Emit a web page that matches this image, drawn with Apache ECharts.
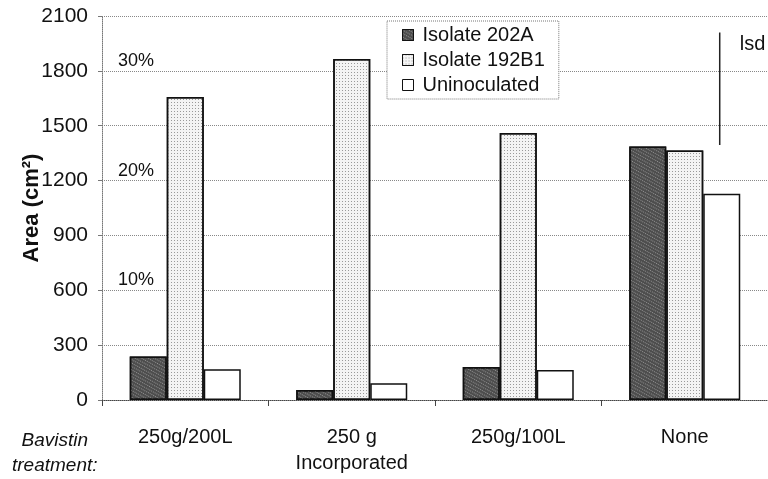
<!DOCTYPE html>
<html>
<head>
<meta charset="utf-8">
<script src="https://cdn.jsdelivr.net/npm/echarts@6/dist/echarts.min.js"></script>
<style>html,body{margin:0;padding:0;background:#fff}#c{width:768px;height:479px}</style>
</head>
<body>
<div id="c"></div>
<script>
var categories = ['250g/200L', '250 g\nIncorporated', '250g/100L', 'None'];
var isolate202A = [238, 55, 180, 1387];
var isolate192B1 = [1657, 1865, 1460, 1365];
var uninoculated = [168, 91, 164, 1128];
var yTicks = [0, 300, 600, 900, 1200, 1500, 1800, 2100];
var pctValues = [1800, 1200, 600];
var pctLabels = ['30%', '20%', '10%'];
var lsdX = 3.71;
var lsdTop = 2010;
var lsdBottom = 1395;

var FONT = '"Liberation Sans", Arial, sans-serif';
var chart = echarts.init(document.getElementById('c'), null, {renderer: 'canvas'});

var borderStyle = {borderColor: '#111', borderWidth: 1.5};
var option = {
  animation: false,
  backgroundColor: '#fff',
  textStyle: {fontFamily: FONT, color: '#111'},
  grid: {left: 102, top: 16, width: 672, bottom: 79, containLabel: false},
  legend: {
    orient: 'vertical', left: 387, top: 21,
    padding: [4, 14, 4, 15],
    itemGap: 5, itemWidth: 11, itemHeight: 11,
    borderColor: '#777', borderWidth: 1, borderType: 'dotted',
    backgroundColor: '#fff',
    icon: 'rect',
    textStyle: {fontFamily: FONT, fontSize: 20, lineHeight: 19, color: '#111', padding: [0, 0, 0, 4]},
    itemStyle: {borderColor: '#111', borderWidth: 1},
    data: ['Isolate 202A', 'Isolate 192B1', 'Uninoculated']
  },
  xAxis: [{
    type: 'category', data: categories, gridIndex: 0,
    axisLine: {lineStyle: {color: '#444', width: 1, type: 'dotted'}},
    axisTick: {show: true, length: 6, lineStyle: {color: '#444'}},
    axisLabel: {fontFamily: FONT, fontSize: 20, color: '#111', margin: 24, lineHeight: 26, align: 'center'},
    splitLine: {show: false}
  }, {
    type: 'value', min: 0, max: 4, show: false, gridIndex: 0
  }],
  yAxis: {
    type: 'value', min: 0, max: 2100, interval: 300,
    name: 'Area (cm²)', nameLocation: 'middle', nameGap: 59, nameRotate: 90, nameMoveOverlap: false,
    nameTextStyle: {fontFamily: FONT, fontSize: 22, fontWeight: 'bold', color: '#111'},
    axisLine: {show: true, lineStyle: {color: '#777', type: 'dotted'}},
    axisTick: {show: true, length: 4, lineStyle: {color: '#777'}},
    axisLabel: {fontFamily: FONT, fontSize: 21, color: '#111', margin: 14,
      formatter: function (v) { return yTicks.indexOf(v) >= 0 ? String(v) : ''; }},
    splitLine: {show: true, lineStyle: {color: '#888', type: 'dotted', width: 1}}
  },
  graphic: [{
    type: 'text', left: 12, top: 428,
    style: {text: 'Bavistin\ntreatment:', font: 'italic 19px ' + FONT, fill: '#111', textAlign: 'center', lineHeight: 25, x: 46}
  }],
  series: [{
    name: 'Isolate 202A', type: 'bar', data: isolate202A, barWidth: 37, barGap: '0%',
    itemStyle: Object.assign({color: '#4d4d4d',
      decal: {symbol: 'rect', symbolSize: 1, dashArrayX: [1, 1], dashArrayY: [1, 2], color: 'rgba(200,200,200,0.55)', rotation: 0.5}}, borderStyle),
    markLine: {
      silent: true, symbol: 'none',
      lineStyle: {color: 'rgba(0,0,0,0)', width: 0},
      label: {show: true, position: 'insideStartTop', distance: [16, 1], fontFamily: FONT, fontSize: 18, color: '#111'},
      data: pctValues.map(function (v, i) { return {yAxis: v, label: {formatter: pctLabels[i]}}; })
    }
  }, {
    name: 'Isolate 192B1', type: 'bar', data: isolate192B1, barWidth: 37, barGap: '0%',
    itemStyle: Object.assign({color: '#f4f4f4',
      decal: {symbol: 'rect', symbolSize: 1, dashArrayX: [1, 2], dashArrayY: [1, 2], color: '#9a9a9a', rotation: 0}}, borderStyle)
  }, {
    name: 'Uninoculated', type: 'bar', data: uninoculated, barWidth: 37, barGap: '0%',
    itemStyle: Object.assign({color: '#ffffff'}, borderStyle)
  }, {
    name: 'lsd', type: 'line', xAxisIndex: 1, yAxisIndex: 0,
    data: [[lsdX, lsdBottom], [lsdX, lsdTop]],
    symbol: 'none', lineStyle: {color: '#222', width: 1.5},
    label: {show: false},
    endLabel: {show: true, formatter: 'lsd', fontFamily: FONT, fontSize: 20, color: '#111', offset: [12, 12]},
    silent: true
  }]
};
chart.setOption(option);
</script>
</body>
</html>
